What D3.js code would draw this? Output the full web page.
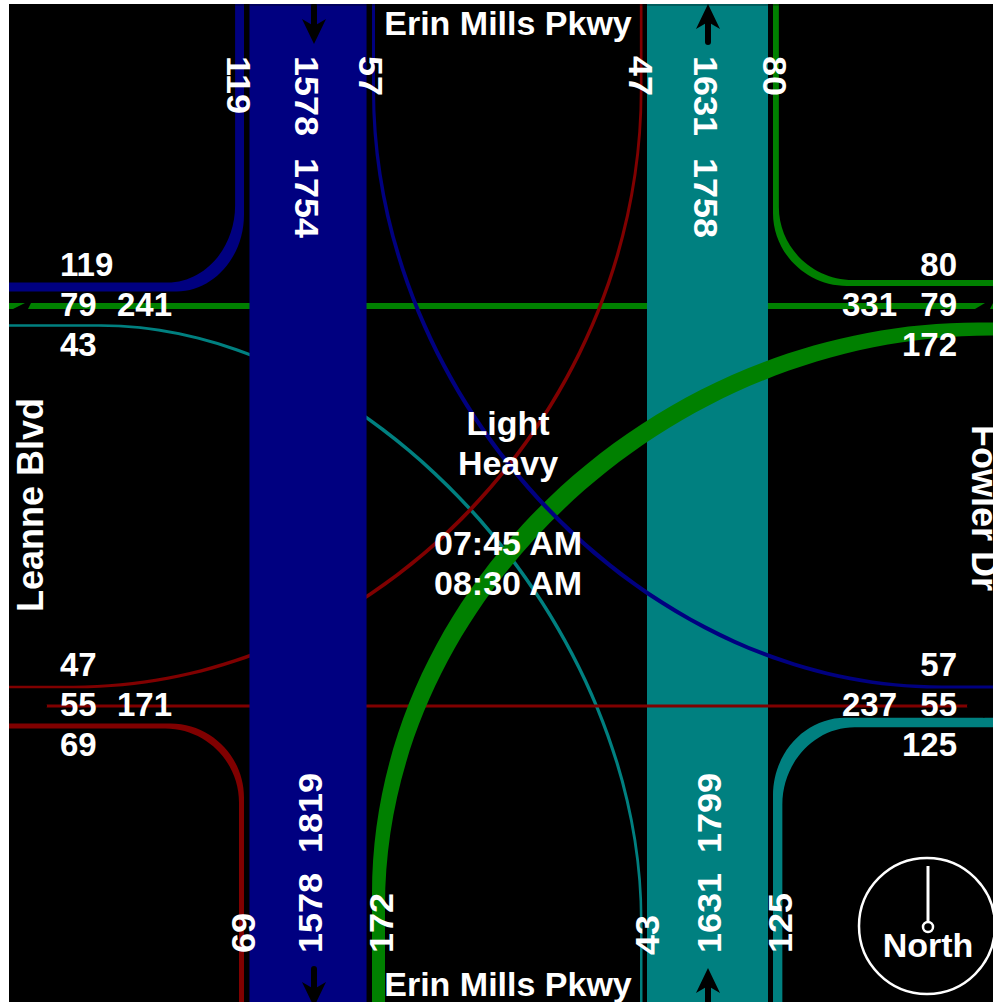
<!DOCTYPE html>
<html>
<head>
<meta charset="utf-8">
<script src="https://cdnjs.cloudflare.com/ajax/libs/d3/7.8.5/d3.min.js"></script>
<style>
  html, body { margin: 0; padding: 0; background: #fff; overflow: hidden; }
  svg { display: block; }
  text { font-family: "Liberation Sans", Arial, sans-serif; font-weight: bold; fill: #fff; }
</style>
</head>
<body>
<svg id="chart" width="993" height="1002"></svg>
<script>
// Turning movement counts, one array per approach: [right, through, left]
const fromNorth = [119, 1578, 57];
const fromEast = [80, 79, 172];
const fromSouth = [125, 1631, 43];
const fromWest = [69, 55, 47];

// Leg totals
const northLegOut = 1754;
const northLegIn = 1758;
const southLegOut = 1819;
const southLegIn = 1799;
const westLegTotals = [241, 171];
const eastLegTotals = [331, 237];

const streetNS = "Erin Mills Pkwy";
const streetWest = "Leanne Blvd";
const streetEast = "Fowler Dr";
const centerLines = ["Light", "Heavy", "07:45 AM", "08:30 AM"];
const compassLabel = "North";

// Layout
const W = 993, H = 1002, left = 9, top_ = 4, over = 20;
const svg = d3.select("#chart");

// band width from volume
const widthScale = d3.scaleLinear()
    .domain([43, 57, 69, 172, 1631])
    .range([2.5, 3, 5, 13, 121]);

const colors = { north: "#000080", east: "#008000", south: "#008080", west: "#800000" };

svg.append("defs").append("clipPath").attr("id", "plot")
    .append("rect").attr("x", left).attr("y", top_).attr("width", W - left).attr("height", H - top_);

const plot = svg.append("g").attr("clip-path", "url(#plot)");
plot.append("rect").attr("x", left).attr("y", top_).attr("width", W - left).attr("height", H - top_).attr("fill", "#000");

// vertical road edges and horizontal row lines
const sbCenter = 308, nbCenter = 707.5;
const sbLeftEdge = 244, sbRightEdge = 372, nbLeftEdge = 642.5, nbRightEdge = 773;
const ewThruTop = 306, ewThruBottom = 706;

function hLine(x0, x1, y) {
    const p = d3.path();
    p.moveTo(x0, y);
    p.lineTo(x1, y);
    return p.toString();
}

function band(g, center, volume, color) {
    const w = widthScale(volume);
    g.append("rect").attr("x", center - w / 2).attr("y", top_).attr("width", w).attr("height", H - top_).attr("fill", color);
}

// Turn drawn like a sweep of the pen: the same curve shifted both ways by half the width, filled
// between. Straight runs keep the scale width, the diagonal middle comes out heavier.
// legs: start, curve start, curve end, finish. sx/sy set the sweep direction
function ribbon(g, legs, vertFirst, k, volume, color, sx, sy) {
    const [a, b, c, e] = legs;
    const h = widthScale(volume) / 2;
    const c1 = vertFirst ? [b[0], b[1] + (c[1] - b[1]) * k] : [b[0] + (c[0] - b[0]) * k, b[1]];
    const c2 = vertFirst ? [c[0] + (b[0] - c[0]) * k, c[1]] : [c[0], c[1] + (b[1] - c[1]) * k];
    const up = q => [q[0] + sx * h, q[1] + sy * h];
    const dn = q => [q[0] - sx * h, q[1] - sy * h];
    const p = d3.path();
    p.moveTo(...up(a));
    p.lineTo(...up(b));
    p.bezierCurveTo(...up(c1), ...up(c2), ...up(c));
    p.lineTo(...up(e));
    p.lineTo(...dn(e));
    p.lineTo(...dn(c));
    p.bezierCurveTo(...dn(c2), ...dn(c1), ...dn(b));
    p.lineTo(...dn(a));
    p.closePath();
    return g.append("path").attr("d", p.toString()).attr("fill", color);
}

const half = v => widthScale(v) / 2;

// Draw order matters: east through sits under the northbound band, the left turns above it
plot.append("path").attr("d", hLine(left, W, ewThruTop)).attr("stroke", colors.east).attr("stroke-width", widthScale(fromEast[1]));
band(plot, nbCenter, fromSouth[1], colors.south);

const x43 = nbLeftEdge - half(fromSouth[2]);
ribbon(plot, [[-over, 325.5], [100, 325.5], [x43, 920], [x43, H + over]], false, 0.5, fromSouth[2], colors.south, 1, -1);
const x47 = nbLeftEdge - half(fromWest[2]);
ribbon(plot, [[x47, -over], [x47, 90], [75, 687], [-over, 687]], true, 0.535, fromWest[2], colors.west, 1, 1);
plot.append("path").attr("d", hLine(left, W, ewThruBottom)).attr("stroke", colors.west).attr("stroke-width", widthScale(fromWest[1]));

const x172 = sbRightEdge + half(fromEast[2]);
ribbon(plot, [[x172, H + over], [x172, 900], [985, 329], [W + over, 329]], true, 0.535, fromEast[2], colors.east, 1, 1);
const x57 = sbRightEdge + half(fromNorth[2]);
ribbon(plot, [[x57, -over], [x57, 90], [940, 687], [W + over, 687]], true, 0.525, fromNorth[2], colors.north, 1, -1);

band(plot, sbCenter, fromNorth[1], colors.north);

// right turns
const x119 = sbLeftEdge - half(fromNorth[0]);
ribbon(plot, [[x119, -over], [x119, 210], [172, 287], [-over, 287]], true, 0.55, fromNorth[0], colors.north, 1, 1);
const x80 = nbRightEdge + half(fromEast[0]);
ribbon(plot, [[x80, -over], [x80, 210], [850, 283], [W + over, 283]], true, 0.55, fromEast[0], colors.east, 1, -1);
const x69 = sbLeftEdge - half(fromWest[0]);
ribbon(plot, [[x69, H + over], [x69, 800], [168, 726], [-over, 726]], true, 0.55, fromWest[0], colors.west, 1, -1);
const x125 = nbRightEdge + half(fromSouth[0]);
ribbon(plot, [[x125, H + over], [x125, 800], [850, 722.5], [W + over, 722.5]], true, 0.55, fromSouth[0], colors.south, 1, 1);

// dark hairline along the top edge
plot.append("line").attr("x1", left).attr("x2", W).attr("y1", 5).attr("y2", 5)
    .attr("stroke", "#000").attr("stroke-opacity", 0.55);

// direction arrows: tip at (x,y), shaft trailing back, angle 0 points up
function arrow(x, y, angle) {
    const g = plot.append("g").attr("transform", `translate(${x},${y}) rotate(${angle})`);
    g.append("line").attr("x1", 0).attr("x2", 0).attr("y1", 15).attr("y2", 38)
        .attr("stroke", "#000").attr("stroke-width", 6).attr("stroke-linecap", "round");
    g.append("path").attr("d", d3.line()([[0, 0], [12, 25], [0, 18], [-12, 25]]) + "Z").attr("fill", "#000");
}
arrow(314, 44, 180);
arrow(708, 4, 0);
arrow(314, 1007, 180);
arrow(708, 968, 0);
arrow(6, ewThruBottom, -90);
arrow(1008, ewThruBottom, 90);

// heads cutting across the east-west through line
const slash = d3.line();
plot.append("path").attr("d", slash([[13, 309], [25, 303], [31, 303], [28, 309]]) + "Z").attr("fill", "#000");
plot.append("path").attr("d", slash([[975, 309], [985, 303], [993, 303], [990, 309]]) + "Z").attr("fill", "#000");

// Text
const hSize = 34, numSize = 33, rSize = 34, rStretch = 1.06;

function label(txt, x, y, anchor, size, rot, stretch) {
    return plot.append("text")
        .attr("transform", `translate(${x},${y})` + (rot ? ` rotate(${rot})` : "") + (stretch ? ` scale(${stretch},1)` : ""))
        .attr("text-anchor", anchor)
        .style("font-size", size + "px")
        .text(txt);
}
const down = (txt, x, y) => label(txt, x, y, "start", rSize, 90, rStretch);
const upward = (txt, x, y) => label(txt, x, y, "start", rSize, -90, rStretch);

// left side rows
label(fromNorth[0], 60, 276, "start", numSize);
label(fromEast[1], 60, 316, "start", numSize);
label(fromSouth[2], 60, 356, "start", numSize);
label(westLegTotals[0], 117, 316, "start", numSize);
label(fromWest[2], 60, 676, "start", numSize);
label(fromWest[1], 60, 716, "start", numSize);
label(fromWest[0], 60, 756, "start", numSize);
label(westLegTotals[1], 117, 716, "start", numSize);

// right side rows
label(fromEast[0], 957, 276, "end", numSize);
label(fromEast[1], 957, 316, "end", numSize);
label(fromEast[2], 957, 356, "end", numSize);
label(eastLegTotals[0], 897, 316, "end", numSize);
label(fromNorth[2], 957, 676, "end", numSize);
label(fromWest[1], 957, 716, "end", numSize);
label(fromSouth[0], 957, 756, "end", numSize);
label(eastLegTotals[1], 897, 716, "end", numSize);

// top rows, read downward
down(fromNorth[0], 227, 56);
down(fromNorth[1], 295, 56);
down(northLegOut, 295, 158);
down(fromNorth[2], 359, 56);
down(fromWest[2], 629, 56);
down(fromSouth[1], 694, 56);
down(northLegIn, 694, 158);
down(fromEast[0], 763, 56);

// bottom rows, read upward
upward(fromWest[0], 255, 953);
upward(fromNorth[1], 322, 953);
upward(southLegOut, 322, 853);
upward(fromEast[2], 393, 953);
upward(fromSouth[2], 659, 955);
upward(fromSouth[1], 721, 953);
upward(southLegIn, 721, 853);
upward(fromSouth[0], 792, 953);

// street names
label(streetNS, 508, 35, "middle", hSize);
label(streetNS, 508, 996, "middle", hSize);
label(streetWest, 43, 612, "start", 36, -90);
label(streetEast, 972, 425, "start", 36, 90);

// centre block
[435, 475, 555, 595].forEach((y, i) => label(centerLines[i], 508, y, "middle", hSize));

// compass
plot.append("circle").attr("cx", 927).attr("cy", 926).attr("r", 68)
    .attr("fill", "none").attr("stroke", "#fff").attr("stroke-width", 2.5);
plot.append("line").attr("x1", 928).attr("x2", 928).attr("y1", 866).attr("y2", 922)
    .attr("stroke", "#fff").attr("stroke-width", 3);
plot.append("circle").attr("cx", 928).attr("cy", 927).attr("r", 5)
    .attr("fill", "#000").attr("stroke", "#fff").attr("stroke-width", 2.5);
label(compassLabel, 928, 957, "middle", hSize);
</script>
</body>
</html>
